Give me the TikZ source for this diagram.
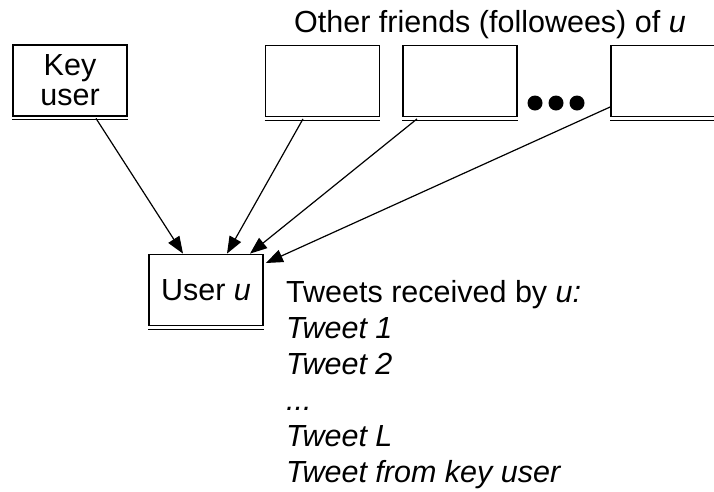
\documentclass[tikz,border=0pt]{standalone}
\usepackage{fontspec}
\setmainfont{Liberation Sans}
\usetikzlibrary{arrows.meta,calc}
\begin{document}
\begin{tikzpicture}[x=1pt,y=-1pt,
  box/.style={draw,line width=1.8pt,minimum width=114pt,minimum height=71pt,inner sep=0pt,align=center,font=\fontsize{30.5}{30}\selectfont},
  arr/.style={line width=1.2pt,-{Triangle[length=17pt,width=13pt]}},
  dot/.style={circle,fill=black,minimum size=15pt,inner sep=0pt},
  txt/.style={anchor=base west,inner sep=0pt,font=\fontsize{30.5}{36}\selectfont}]
\useasboundingbox (0,0) rectangle (714,491);
\begin{scope}
\clip (0,0) rectangle (714,491);
\node[box] (key) at (70,80.5) {Key\\user};
\node[box] (f1) at (322.5,81) {};
\node[box] (f2) at (460,81) {};
\node[box] (f3) at (668,81) {};
\node[box] (user) at (206,290) {User \textit{u}};
\foreach \n in {key,f1,f2,f3,user}{
  \draw[line width=1pt] ([yshift=-2.8pt]\n.south west) -- ([yshift=-2.8pt]\n.south east);
}
\end{scope}
\node[dot] (d1) at (535,103) {};
\node[dot] (d2) at (556,103) {};
\node[dot] (d3) at (577,103) {};
\node[anchor=base,font=\fontsize{30.5}{30}\selectfont,inner sep=0pt] (title) at (490,32) {Other friends (followees) of \textit{u}};
\draw[arr] ([xshift=26pt,yshift=-1.5pt]key.south) -- ([xshift=-23pt]user.north);
\draw[arr] ([xshift=-19.5pt,yshift=-1.5pt]f1.south) -- ([xshift=21pt]user.north);
\draw[arr] ([xshift=-43pt,yshift=-1.5pt]f2.south) -- ([xshift=44pt]user.north);
\draw[arr] ([yshift=-26pt]f3.west) -- ([xshift=2pt,yshift=27pt]user.east);
\node[txt] (t0) at (286,302) {Tweets received by \textit{u:}};
\node[txt] (t1) at (286,338) {\textit{Tweet 1}};
\node[txt] (t2) at (286,374) {\textit{Tweet 2}};
\node[txt] (t3) at (286,410) {\textit{...}};
\node[txt] (t4) at (286,446) {\textit{Tweet L}};
\node[txt] (t5) at (286,482) {\textit{Tweet from key user}};
\end{tikzpicture}
\end{document}
